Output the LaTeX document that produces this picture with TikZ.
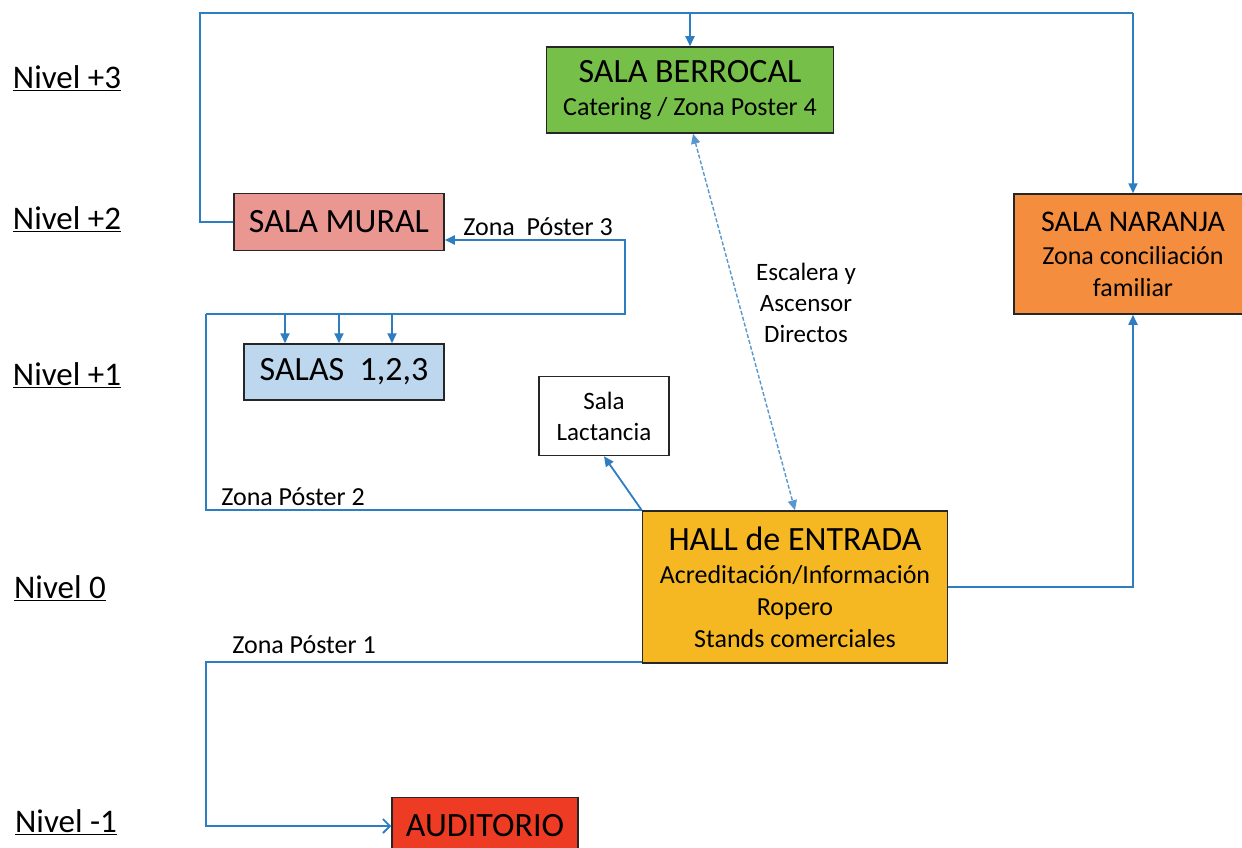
\documentclass[tikz,border=0pt]{standalone}
\usepackage{fontspec}
\setmainfont{Carlito}
\usetikzlibrary{arrows.meta,positioning}
\newcommand{\titlef}{\fontsize{34}{40}\selectfont}
\newcommand{\subf}{\fontsize{26}{32}\selectfont}
\newcommand{\labf}{\fontsize{25}{31}\selectfont}
\definecolor{berrocalc}{HTML}{76C04A}
\definecolor{muralc}{HTML}{EA9691}
\definecolor{salasc}{HTML}{BDD7EE}
\definecolor{hallc}{HTML}{F5B823}
\definecolor{naranjac}{HTML}{F48E3E}
\definecolor{auditc}{HTML}{EE3B24}
\definecolor{linec}{HTML}{2E7DC1}
\tikzset{
    %Define standard arrow tip
    >={Triangle[length=10pt,width=9pt]},
    %Define style for boxes
    sala/.style={
           rectangle,
           draw=black!85, line width=1.5pt,
           inner sep=0pt,
           align=center,
           font=\subf},
    %Define style for level labels
    nivel/.style={
           inner sep=0pt,
           font=\fontsize{33}{39}\selectfont},
    etiqueta/.style={
           inner sep=0pt,
           align=center,
           font=\labf},
    % Define arrow styles
    link/.style={
           draw=linec,
           line width=1.8pt},
    pil/.style={
           link,
           ->},
    dpil/.style={
           draw=linec!80,
           line width=1.4pt,
           dash pattern=on 4pt off 2pt,
           <->},
}

\begin{document}
\begin{tikzpicture}[x=1pt, y=-1pt]
 \useasboundingbox (0,0) rectangle (1242,848);
 \clip (0,0) rectangle (1242,848);

 % levels
 \node[nivel] (n3) at (67,78) {\underline{Nivel +3}};
 \node[nivel] (n2) at (67,219) {\underline{Nivel +2}};
 \node[nivel] (n1) at (67,375) {\underline{Nivel +1}};
 \node[nivel] (n0) at (60,588) {\underline{Nivel 0}};
 \node[nivel] (nm1) at (66,822) {\underline{Nivel -1}};

 % rooms
 \node[sala, fill=berrocalc, minimum width=287, minimum height=86] (berrocal) at (690,90) {
 	{\titlef SALA BERROCAL}\\[1pt]
 	Catering / Zona Poster 4
 };
 \node[sala, fill=muralc, minimum width=210, minimum height=57] (mural) at (339,222) {\titlef SALA MURAL};
 \node[sala, fill=salasc, minimum width=200, minimum height=56] (salas) at (344,372) {\titlef SALAS\ \ 1,2,3};
 \node[sala, fill=white, minimum width=130, minimum height=79, font=\labf] (lactancia) at (604,416) {
 	Sala\\
 	Lactancia
 };
 \node[sala, fill=hallc, minimum width=305, minimum height=152] (hall) at (795,587) {
 	{\titlef HALL de ENTRADA}\\[1pt]
 	Acreditación/Información\\
 	Ropero\\
 	Stands comerciales
 };
 \node[sala, fill=naranjac, minimum width=238, minimum height=120] (naranja) at (1133,254) {
 	{\fontsize{30}{36}\selectfont SALA NARANJA}\\[1pt]
 	Zona conciliación\\
 	familiar
 };
 \node[sala, fill=auditc, minimum width=186, minimum height=57] (auditorio) at (485,826) {\titlef AUDITORIO};

 % level +3 and +2
 \coordinate (tl) at (200,13);
 \coordinate (tr) at (1133,13);
 \draw[link] (mural.west) -| (tl) -- (tr);
 \draw[pil] (tr) -- (naranja.north);
 \draw[pil] (tr -| berrocal.north) -- (berrocal.north);

 % zona poster 3 and salas
 \coordinate (p2) at (206,314);
 \coordinate (p3) at (625,314);
 \draw[pil] (p2) -- (p3) |- ([yshift=-18pt]mural.east);
 \node[etiqueta, font=\fontsize{26}{31}\selectfont] (zp3) at (538,227) {Zona\ \ Póster 3};
 \foreach \x in {285,339,392}
 	\draw[pil] (\x,314) -- (\x,0 |- salas.north);

 % zona poster 2
 \draw[link] (p2) |- (hall.north west);
 \node[etiqueta, font=\fontsize{26}{31}\selectfont] (zp2) at (293,497) {Zona Póster 2};
 \draw[pil] (hall.north west) -- (lactancia.south);

 % stairs and lift
 \draw[dpil] ([xshift=3pt]berrocal.south) -- (hall.north);
 \node[etiqueta] (escalera) at (806,303) {
 	Escalera y\\
 	Ascensor\\
 	Directos
 };

 % sala naranja
 \draw[pil] (hall.east) -| (naranja.south);

 % zona poster 1
 \coordinate (a1) at (206,826);
 \draw[link, -{Straight Barb[length=7pt,width=14pt]}] ([yshift=2pt]hall.south west) -| (a1) -- (auditorio.west);
 \node[etiqueta, font=\fontsize{26}{31}\selectfont] (zp1) at (304,645) {Zona Póster 1};

\end{tikzpicture}
\end{document}
